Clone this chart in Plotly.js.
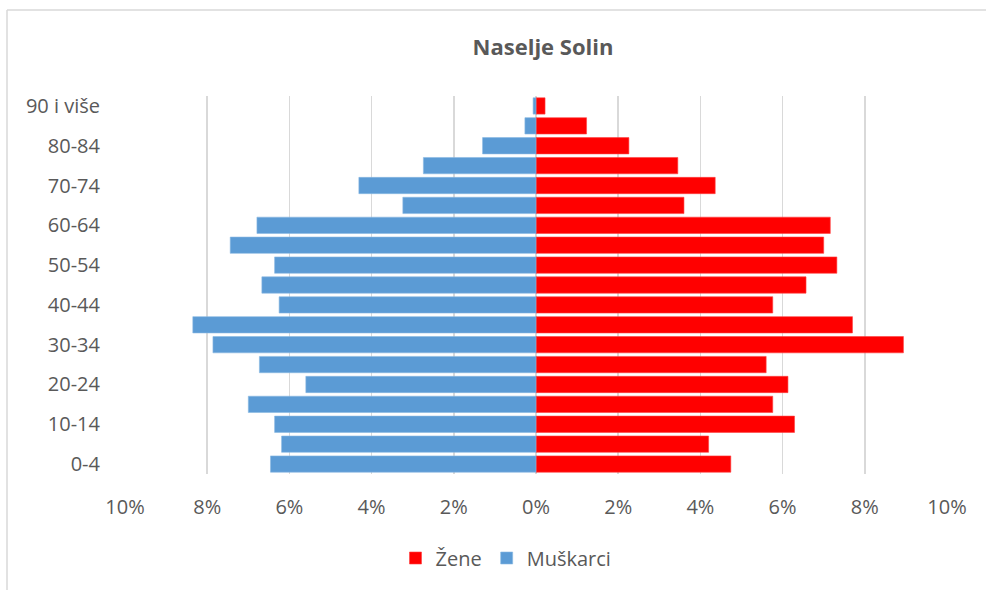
<!DOCTYPE html>
<html>
<head>
<meta charset="utf-8">
<script src="https://cdn.plot.ly/plotly-3.0.1.min.js"></script>
<style>
  html, body { margin: 0; padding: 0; background: #ffffff; }
  #chart { width: 986px; height: 590px; }
</style>
</head>
<body>
<div id="chart"></div>
<script>
// Age groups, bottom to top
const ageGroups = ["0-4","5-9","10-14","15-19","20-24","25-29","30-34","35-39","40-44","45-49",
                   "50-54","55-59","60-64","65-69","70-74","75-79","80-84","85-89","90 i više"];
// Shown tick labels (every other group)
const shownAgeLabels = ["0-4","10-14","20-24","30-34","40-44","50-54","60-64","70-74","80-84","90 i više"];

// Percent of population
const zene = [4.74, 4.20, 6.29, 5.76, 6.13, 5.60, 8.94, 7.70, 5.76, 6.57,
              7.32, 7.00, 7.16, 3.60, 4.36, 3.45, 2.26, 1.23, 0.22];
const muskarci = [6.46, 6.19, 6.36, 7.00, 5.60, 6.73, 7.86, 8.35, 6.25, 6.67,
                  6.36, 7.44, 6.79, 3.24, 4.31, 2.74, 1.30, 0.27, 0.07];

const xTickVals = [-10, -8, -6, -4, -2, 0, 2, 4, 6, 8, 10];
const xTickText = ["10%", "8%", "6%", "4%", "2%", "0%", "2%", "4%", "6%", "8%", "10%"];

const muskarciNeg = muskarci.map(v => -v);

const font = "'Open Sans', 'Liberation Sans', sans-serif";
const textColor = "#595959";

const traces = [
  {
    type: "bar", orientation: "h", name: "Žene",
    y: ageGroups, x: zene,
    marker: { color: "#FF0000", line: { color: "#FF4040", width: 0.6 } },
    hoverinfo: "none"
  },
  {
    type: "bar", orientation: "h", name: "Muškarci",
    y: ageGroups, x: muskarciNeg,
    marker: { color: "#5B9BD5", line: { color: "#8AB8E2", width: 0.6 } },
    hoverinfo: "none"
  }
];

const layout = {
  width: 986, height: 590,
  margin: { l: 125, r: 39, t: 96, b: 116 },
  paper_bgcolor: "#ffffff", plot_bgcolor: "#ffffff",
  font: { family: font, color: textColor, size: 20 },
  title: {
    text: "<b>Naselje Solin</b>",
    font: { family: font, size: 22, color: textColor },
    x: (543 - 125) / 822, xref: "paper", xanchor: "center",
    y: 1 - 47 / 590, yref: "container", yanchor: "middle"
  },
  barmode: "relative",
  bargap: 0.18,
  xaxis: {
    range: [-10, 10],
    tickvals: xTickVals, ticktext: xTickText,
    showgrid: true, gridcolor: "#d9d9d9", gridwidth: 1.6,
    zeroline: false, showline: false,
    ticks: "", ticklabelstandoff: 19,
    tickfont: { family: font, size: 20, color: textColor },
    fixedrange: true
  },
  yaxis: {
    type: "category",
    categoryorder: "array", categoryarray: ageGroups,
    range: [-0.5, ageGroups.length - 0.5],
    tickvals: shownAgeLabels, ticktext: shownAgeLabels,
    showgrid: false, zeroline: false, showline: false,
    ticks: "", ticklabelstandoff: 24,
    tickfont: { family: font, size: 20, color: textColor },
    fixedrange: true
  },
  showlegend: true,
  legend: {
    orientation: "h",
    x: (506 - 125) / 822, xanchor: "center", xref: "paper",
    y: (474 - 558) / 378, yanchor: "middle",
    font: { family: font, size: 20, color: textColor },
    traceorder: "normal",
    itemwidth: 30
  },
  shapes: [
    { type: "line", xref: "paper", yref: "paper",
      x0: (7 - 125) / 822, x1: (1000 - 125) / 822,
      y0: (474 - 10) / 378, y1: (474 - 10) / 378,
      line: { color: "#d9d9d9", width: 1.5 } },
    { type: "line", xref: "paper", yref: "paper",
      x0: (7 - 125) / 822, x1: (7 - 125) / 822,
      y0: (474 - 10) / 378, y1: (474 - 600) / 378,
      line: { color: "#d9d9d9", width: 1.5 } }
  ]
};

Plotly.newPlot("chart", traces, layout, { displayModeBar: false, staticPlot: true });
</script>
</body>
</html>
